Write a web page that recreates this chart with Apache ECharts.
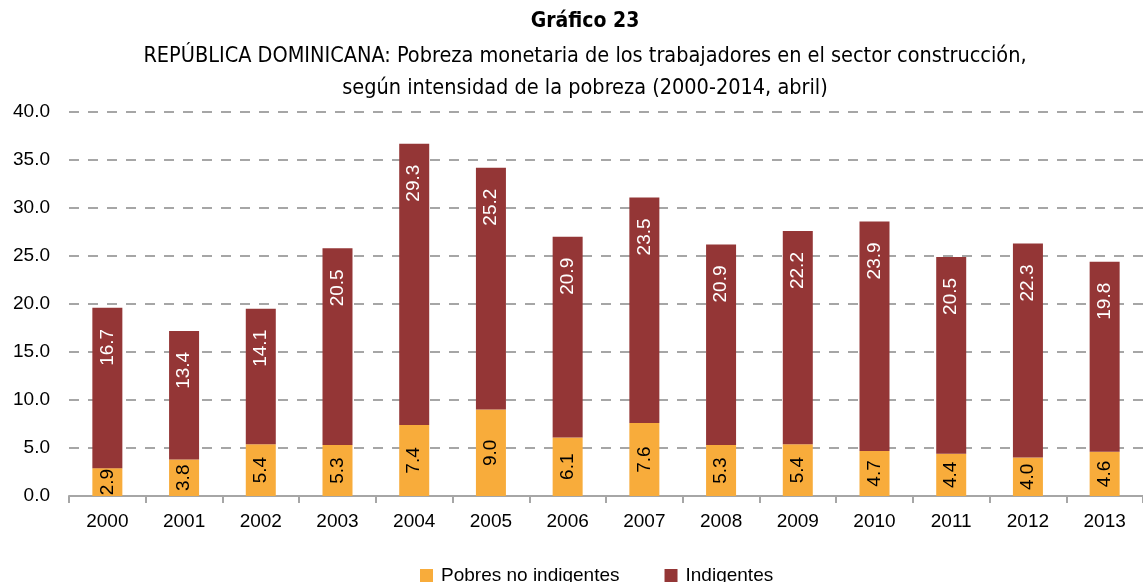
<!DOCTYPE html>
<html><head><meta charset="utf-8">
<script src="https://cdn.jsdelivr.net/npm/echarts@6/dist/echarts.min.js"></script>
<style>html,body{margin:0;padding:0;background:#fff}#c{width:1143px;height:582px}</style>
</head><body><div id="c"></div>
<script>
const years = ['2000','2001','2002','2003','2004','2005','2006','2007','2008','2009','2010','2011','2012','2013'];
const pobresNoIndigentes = [2.9,3.8,5.4,5.3,7.4,9.0,6.1,7.6,5.3,5.4,4.7,4.4,4.0,4.6];
const indigentes = [16.7,13.4,14.1,20.5,29.3,25.2,20.9,23.5,20.9,22.2,23.9,20.5,22.3,19.8];
const seriesNames = ['Pobres no indigentes','Indigentes'];
const titleText = 'Gráfico 23';
const subtitleLines = ['REPÚBLICA DOMINICANA: Pobreza monetaria de los trabajadores en el sector construcción,','según intensidad de la pobreza (2000-2014, abril)'];

const chart = echarts.init(document.getElementById('c'));
const condensed = '"Liberation Sans Narrow","DejaVu Sans Condensed","Liberation Sans",sans-serif';
const sans = '"Liberation Sans",Arial,sans-serif';
chart.setOption({
  animation:false,
  title:[
    {text:titleText,left:580,top:6,textAlign:'center',textStyle:{fontFamily:condensed,fontSize:21,fontWeight:'bold',color:'#000'}},
    {text:subtitleLines.join('\n'),left:580,top:35,textAlign:'center',textStyle:{fontFamily:condensed,fontSize:21.5,fontWeight:'normal',color:'#000',lineHeight:32}}
  ],
  legend:{top:561,left:415,itemWidth:13,itemHeight:13,itemGap:45,icon:'rect',
    textStyle:{fontFamily:sans,fontSize:19,color:'#000',padding:[0,0,0,3]},
    data:seriesNames},
  grid:{left:69,top:112,width:1083,height:384,containLabel:false},
  xAxis:{type:'category',data:years,
    axisLine:{lineStyle:{color:'#a6a6a6',width:2}},
    axisTick:{show:true,length:7,lineStyle:{color:'#a6a6a6',width:2}},
    axisLabel:{color:'#000',fontSize:19,fontFamily:sans,margin:16}},
  yAxis:{type:'value',min:0,max:40,interval:5,
    axisLine:{show:false},axisTick:{show:false},
    axisLabel:{color:'#000',fontSize:19,fontFamily:sans,margin:19,formatter:v=>v.toFixed(1)},
    splitLine:{lineStyle:{color:'#a6a6a6',width:2,type:[10,9]}}},
  series:[
    {name:seriesNames[0],type:'bar',stack:'t',data:pobresNoIndigentes,barWidth:30,
      itemStyle:{color:'#F8AC3B'},
      label:{show:true,position:'inside',rotate:90,color:'#000',fontSize:19,fontFamily:sans,formatter:p=>p.value.toFixed(1)}},
    {name:seriesNames[1],type:'bar',stack:'t',data:indigentes,barWidth:30,
      itemStyle:{color:'#943636'},
      label:{show:true,position:'insideTop',distance:21,rotate:90,align:'right',verticalAlign:'middle',color:'#fff',fontSize:19,fontFamily:sans,formatter:p=>p.value.toFixed(1)}}
  ]
});
</script></body></html>
